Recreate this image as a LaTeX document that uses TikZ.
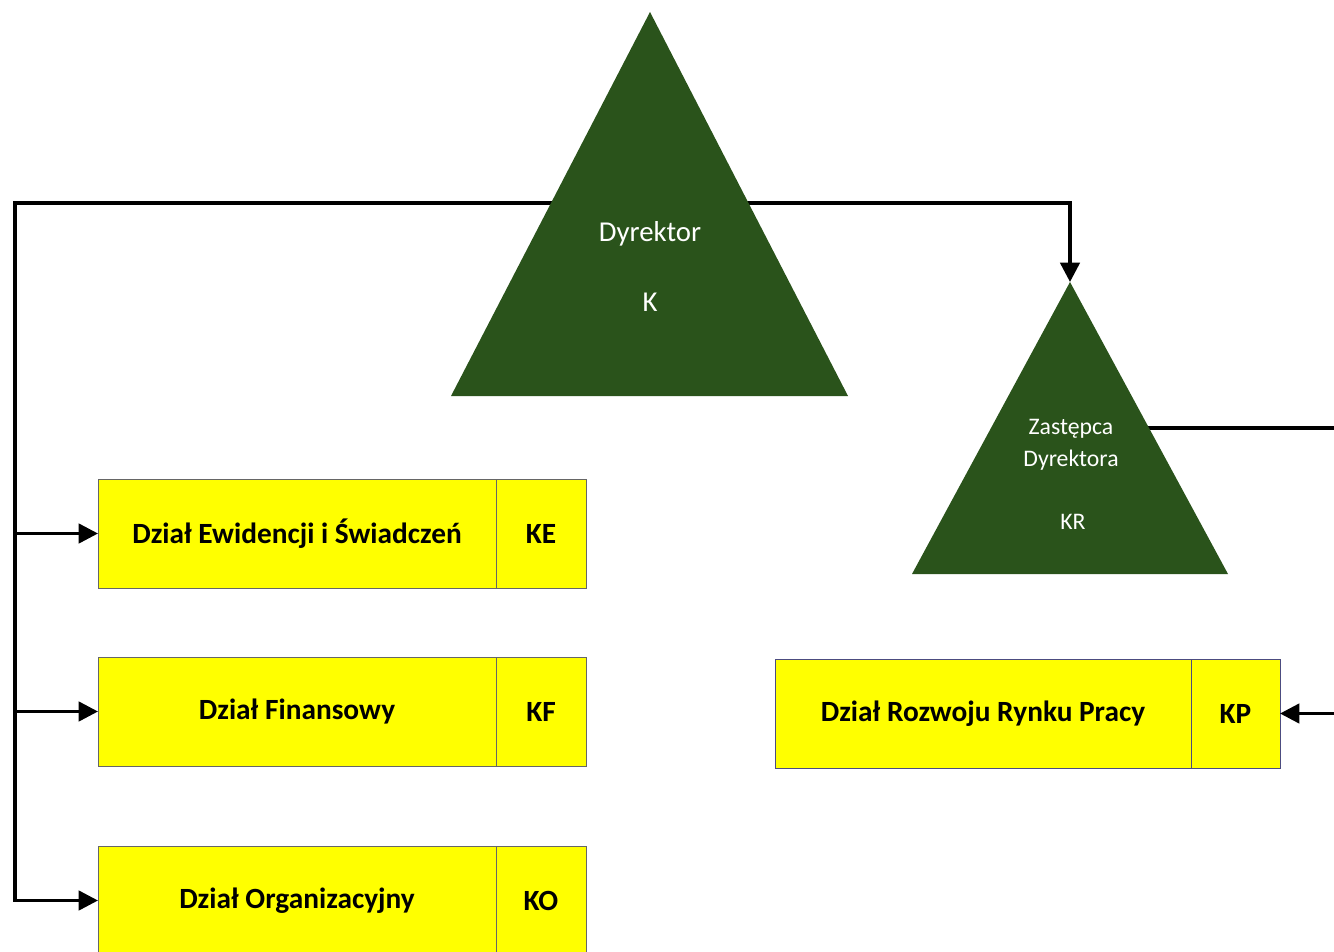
\documentclass[tikz,border=0pt]{standalone}
\usepackage{fontspec}
\setmainfont{Carlito}
\usepackage{xcolor}
\usepackage{tikz}
\usetikzlibrary{arrows.meta,positioning}

\definecolor{chiefgreen}{HTML}{2A531B}
\definecolor{deptyellow}{HTML}{FFFF00}

\begin{document}
\begin{tikzpicture}[x=0.75pt, y=-0.75pt]
        \tikzstyle{dept} = [rectangle, draw=gray!80!black, line width=0.75pt, fill=deptyellow, outer sep=0pt, minimum height=81.75pt, font=\fontsize{22}{26}\selectfont\bfseries]
        \tikzstyle{code} = [dept, minimum width=67.5pt]
        \tikzstyle{chief} = [fill=chiefgreen]
        \tikzstyle{chieftext} = [text=white, inner sep=0pt]
        \tikzstyle{line} = [draw, line width=2.6pt, miter limit=10]
        \tikzstyle{arr} = [line, -{Triangle[length=14.5pt, width=14.5pt]}]

        \useasboundingbox (0,0) rectangle (1334,952);
        \clip (0,0) rectangle (1334,952);

        % departments
        \node [dept, minimum width=298.5pt, anchor=north west] (ewid) at (98,479) {Dział Ewidencji i Świadczeń};
        \node [code, right=0pt of ewid] (ke) {KE};
        \node [dept, minimum width=298.5pt, anchor=north west] (fin) at (98,657) {Dział Finansowy};
        \node [code, right=0pt of fin] (kf) {KF};
        \node [dept, minimum width=298.5pt, anchor=north west] (org) at (98,846) {Dział Organizacyjny};
        \node [code, right=0pt of org] (ko) {KO};
        \node [dept, minimum width=312pt, anchor=north west, draw=blue!25!gray!80!black] (rozw) at (775,659) {Dział Rozwoju Rynku Pracy};
        \node [code, minimum width=66.75pt, right=0pt of rozw, draw=blue!25!gray!80!black] (kp) {KP};

        \coordinate (trunk) at (15,203);
        \coordinate (krtop) at (1070,282);
        \coordinate (krright) at (1110,428);
        \coordinate (rightside) at (1342,428);

        % connectors (under the triangles)
        \path [line, {Triangle[length=14.5pt, width=14.5pt]}-{Triangle[length=14.5pt, width=14.5pt]}] (org.west) -| (trunk) -| (krtop);
        \path [arr] (trunk) |- (ewid.west);
        \path [arr] (trunk) |- (fin.west);
        \path [arr] (krright) -- (rightside) |- (kp.east);

        % Dyrektor
        \fill [chief] (650,12) -- (848,396) -- (451,396) -- cycle;
        \node [chieftext, font=\fontsize{21.6}{24}\selectfont] (dyr) at (650,234) {Dyrektor};
        \node [chieftext, font=\fontsize{21.6}{24}\selectfont] (dyrk) at (650,302) {K};

        % Zastepca Dyrektora
        \fill [chief] (krtop) -- (1228,574) -- (912,574) -- cycle;
        \node [chieftext, font=\fontsize{17.8}{24}\selectfont, align=center] (zast) at (1071,445) {Zastępca\\Dyrektora};
        \node [chieftext, font=\fontsize{17.8}{20}\selectfont] (zastk) at (1073,522) {KR};
    \end{tikzpicture}
\end{document}
